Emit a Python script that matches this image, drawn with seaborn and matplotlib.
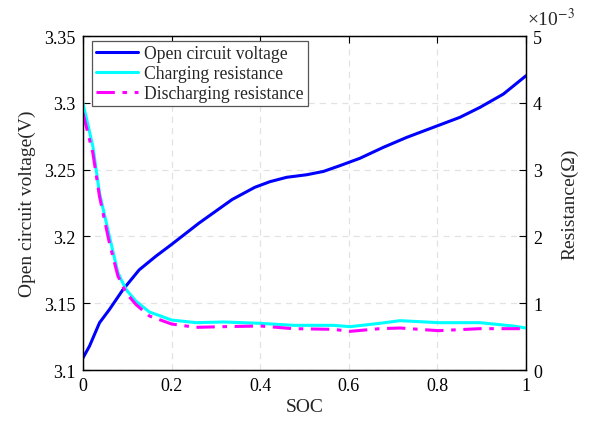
import numpy as np
import pandas as pd
import matplotlib
matplotlib.use("Agg")
import matplotlib.pyplot as plt
import seaborn as sns
from matplotlib.ticker import FuncFormatter, MultipleLocator
from matplotlib.lines import Line2D

# OCV data
soc_ocv = [0.0, 0.015, 0.0375, 0.06, 0.09, 0.127, 0.165, 0.2, 0.262, 0.337, 0.388, 0.422,
           0.46, 0.505, 0.543, 0.58, 0.625, 0.678, 0.731, 0.791, 0.851, 0.896, 0.949, 1.0]
ocv = [3.109, 3.118, 3.1354, 3.1454, 3.160, 3.175, 3.1853, 3.194, 3.210, 3.2277, 3.2368, 3.241,
       3.2443, 3.2462, 3.2487, 3.253, 3.2585, 3.2667, 3.2742, 3.2817, 3.2892, 3.2966, 3.3066, 3.3203]

# Resistance data (in 1e-3 Ohm)
soc_r = [0.0, 0.0225, 0.0375, 0.06, 0.079, 0.097, 0.12, 0.15, 0.2, 0.255, 0.317, 0.4,
         0.475, 0.565, 0.603, 0.67, 0.716, 0.802, 0.896, 0.971, 1.0]
r_chg = [4.0, 3.35, 2.65, 2.0, 1.46, 1.21, 1.03, 0.87, 0.75, 0.71, 0.72, 0.70,
         0.67, 0.67, 0.65, 0.70, 0.74, 0.71, 0.71, 0.66, 0.63]
r_dis = [3.85, 3.25, 2.6, 1.9, 1.41, 1.16, 0.98, 0.81, 0.69, 0.64, 0.65, 0.66,
         0.62, 0.61, 0.58, 0.62, 0.63, 0.59, 0.62, 0.62, 0.62]

sns.set_theme(style="white")
plt.rcParams['font.family'] = ['Liberation Serif', 'DejaVu Serif']
plt.rcParams['mathtext.fontset'] = 'stix'

fig = plt.figure(figsize=(5.92, 4.31), dpi=100)
ax = fig.add_axes([0.140, 0.139, 0.7485, 0.775])
ax2 = ax.twinx()

df_ocv = pd.DataFrame({"SOC": soc_ocv, "OCV": ocv})
df_r = pd.DataFrame({"SOC": soc_r, "chg": np.array(r_chg) * 1e-3, "dis": np.array(r_dis) * 1e-3})

sns.lineplot(data=df_ocv, x="SOC", y="OCV", ax=ax, color=(0, 0, 1), lw=2.2)
sns.lineplot(data=df_r, x="SOC", y="chg", ax=ax2, color=(0, 1, 1), lw=2.2)
sns.lineplot(data=df_r, x="SOC", y="dis", ax=ax2, color=(1, 0, 1), lw=2.2, dashes=False)
ax2.lines[-1].set_dashes([6, 2.5, 1.5, 2.5])

ax.set_xlim(0, 1)
ax.set_ylim(3.1, 3.35)
ax2.set_ylim(0, 5e-3)
ax.xaxis.set_major_locator(MultipleLocator(0.2))
ax.yaxis.set_major_locator(MultipleLocator(0.05))
ax2.yaxis.set_major_locator(MultipleLocator(1e-3))
ax.xaxis.set_major_formatter(FuncFormatter(lambda v, p: "0" if abs(v) < 1e-9 else ("1" if abs(v-1) < 1e-9 else f"{v:g}")))
ax.yaxis.set_major_formatter(FuncFormatter(lambda v, p: f"{v:g}"))
ax2.yaxis.set_major_formatter(FuncFormatter(lambda v, p: f"{v*1e3:.0f}"))

ax.grid(True, color="#e2e2e2", ls=(0, (5, 4)), lw=0.9)
for a in (ax, ax2):
    for s in a.spines.values():
        s.set_color("black")
        s.set_linewidth(0.9)
ax.tick_params(axis="both", which="both", direction="in", length=5, width=0.8,
               top=True, right=False, labelsize=13, colors="black", pad=5)
ax2.tick_params(axis="y", direction="in", length=5, width=0.8, labelsize=13, colors="black", pad=5)

ax.set_xlabel("SOC", fontsize=14, labelpad=3)
ax.set_ylabel("Open circuit voltage(V)", fontsize=14, labelpad=6)
ax2.set_ylabel("Resistance(Ω)", fontsize=14, labelpad=14)
ax2.text(1.002, 1.022, "×10$^{-3}$", transform=ax2.transAxes, fontsize=14, ha="left", va="bottom")

handles = [Line2D([], [], color=(0, 0, 1), lw=2.2),
           Line2D([], [], color=(0, 1, 1), lw=2.2),
           Line2D([], [], color=(1, 0, 1), lw=2.2, dashes=[6, 2.5, 1.5, 2.5])]
labels = ["Open circuit voltage", "Charging resistance", "Discharging resistance"]
leg = ax2.legend(handles, labels, loc="upper left", bbox_to_anchor=(0.02, 0.985), fontsize=12.7,
                 frameon=True, fancybox=False, edgecolor="#555555", framealpha=1,
                 borderpad=0.25, labelspacing=0.15, handlelength=2.4, handletextpad=0.3,
                 borderaxespad=0)
leg.get_frame().set_linewidth(0.9)

fig.savefig("out.png", dpi=100)
